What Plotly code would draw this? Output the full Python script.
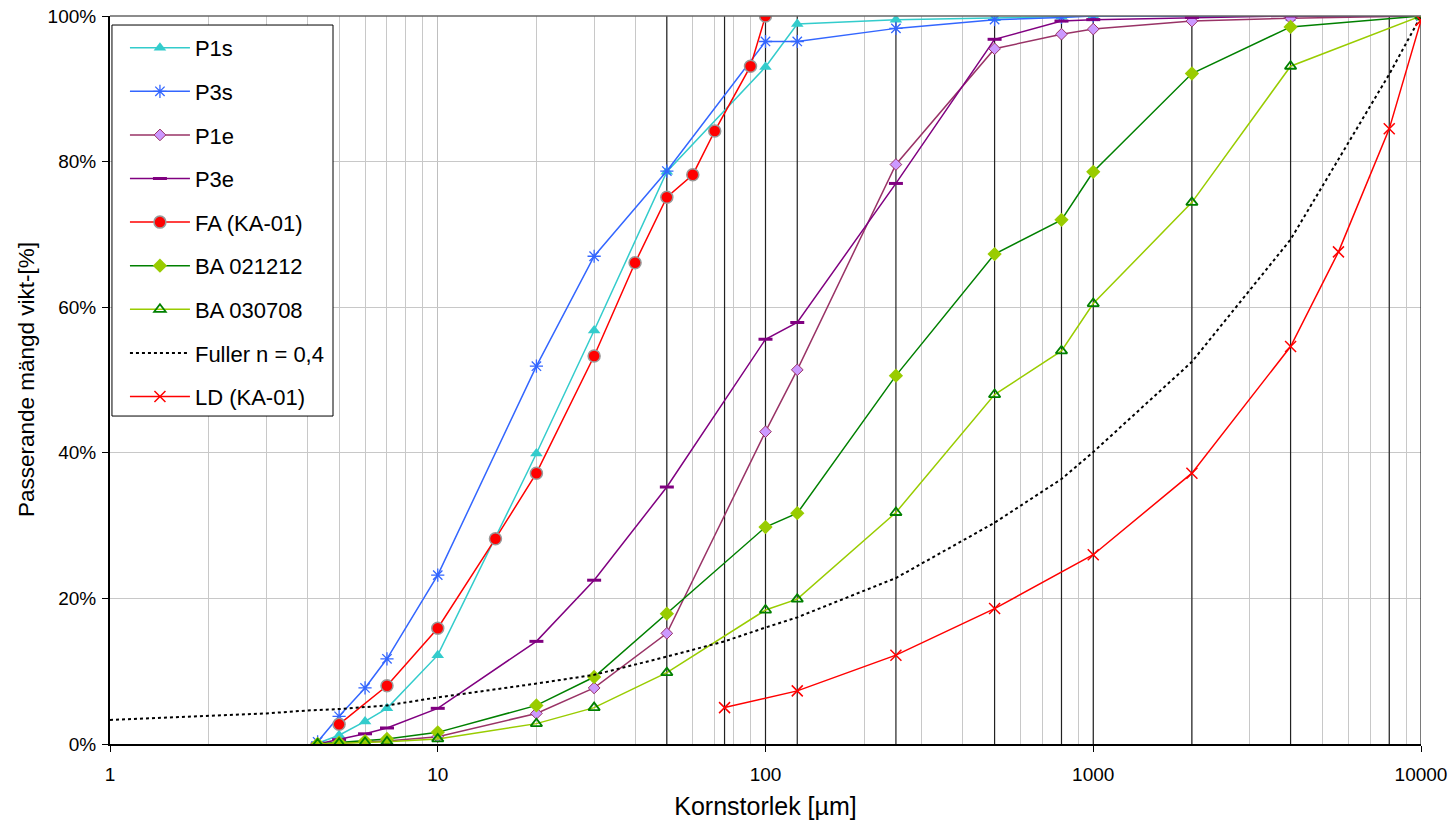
import plotly.graph_objects as go

# ---------------- data ----------------
x_p1s = [4.3, 5, 6, 7, 10, 20, 30, 50, 100, 125, 250, 500, 800, 1000, 2000, 4000, 10000]
y_p1s = [0.1, 1.2, 3.1, 4.9, 12.2, 39.9, 56.8, 78.6, 93.0, 98.9, 99.5, 99.7, 99.9, 100, 100, 100, 100]

x_p3s = [4.3, 5, 6, 7, 10, 20, 30, 50, 100, 125, 250, 500, 800, 1000, 2000, 4000, 10000]
y_p3s = [0.3, 3.8, 7.7, 11.7, 23.2, 51.9, 67.0, 78.7, 96.5, 96.5, 98.3, 99.5, 99.8, 100, 100, 100, 100]

x_p1e = [4.3, 5, 6, 7, 10, 20, 30, 50, 100, 125, 250, 500, 800, 1000, 2000, 4000, 10000]
y_p1e = [0.0, 0.1, 0.3, 0.4, 1.0, 4.2, 7.7, 15.2, 42.9, 51.4, 79.6, 95.5, 97.5, 98.2, 99.3, 99.7, 100]

x_p3e = [4.3, 5, 6, 7, 10, 20, 30, 50, 100, 125, 250, 500, 800, 1000, 2000, 4000, 10000]
y_p3e = [0.0, 0.6, 1.4, 2.2, 4.9, 14.1, 22.5, 35.3, 55.6, 57.9, 77.0, 96.8, 99.3, 99.5, 99.8, 100, 100]

x_fa = [5, 7, 10, 15, 20, 30, 40, 50, 60, 70, 90, 100]
y_fa = [2.7, 8.0, 15.9, 28.2, 37.2, 53.3, 66.1, 75.1, 78.2, 84.2, 93.1, 100]

x_ba1 = [4.3, 5, 6, 7, 10, 20, 30, 50, 100, 125, 250, 500, 800, 1000, 2000, 4000, 10000]
y_ba1 = [0.0, 0.2, 0.4, 0.7, 1.6, 5.3, 9.2, 17.9, 29.8, 31.7, 50.6, 67.3, 72.0, 78.6, 92.1, 98.5, 100]

x_ba2 = [4.3, 5, 6, 7, 10, 20, 30, 50, 100, 125, 250, 500, 800, 1000, 2000, 4000, 10000]
y_ba2 = [0.0, 0.1, 0.2, 0.3, 0.7, 2.8, 5.0, 9.8, 18.4, 19.9, 31.8, 48.0, 54.0, 60.5, 74.4, 93.1, 100]

x_fuller = [1, 2, 3, 4, 5, 7, 10, 20, 30, 50, 75, 100, 125, 250, 500, 800, 1000, 2000, 4000, 8000, 10000]
y_fuller = [3.3, 3.9, 4.2, 4.6, 4.8, 5.3, 6.4, 8.3, 9.5, 12.0, 14.1, 16.0, 17.4, 22.8, 30.4, 36.4, 40.1, 52.5, 69.3, 92.0, 100]

x_ld = [75, 125, 250, 500, 1000, 2000, 4000, 5600, 8000, 10000]
y_ld = [5.0, 7.3, 12.2, 18.6, 26.0, 37.2, 54.6, 67.6, 84.5, 99.4]

sieve_sizes = [50, 75, 100, 125, 250, 500, 800, 1000, 2000, 4000, 8000, 10000]

x_ticks = [1, 10, 100, 1000, 10000]
x_tick_labels = ["1", "10", "100", "1000", "10000"]
y_ticks = [0, 20, 40, 60, 80, 100]
y_tick_labels = ["0%", "20%", "40%", "60%", "80%", "100%"]

# ---------------- figure ----------------
fig = go.Figure()

# sieve lines (vertical)
sx, sy = [], []
for s in sieve_sizes:
    sx += [s, s, None]
    sy += [0, 100, None]
fig.add_trace(go.Scatter(x=sx, y=sy, mode="lines", line=dict(color="#222222", width=1.2),
                         showlegend=False, hoverinfo="skip"))

def add(name, x, y, lcolor, lwidth, msym, msize, mcolor, mline, mlw, dash="solid", mode="lines+markers"):
    fig.add_trace(go.Scatter(
        x=x, y=y, name=name, mode=mode, legendgroup=name,
        line=dict(color=lcolor, width=lwidth, dash=dash),
        marker=dict(symbol=msym, size=msize, color=mcolor, line=dict(color=mline, width=mlw)),
    ))

add("P1s", x_p1s, y_p1s, "#33CCCC", 1.5, "triangle-up", 11, "#33CCCC", "#33CCCC", 0)
add("P3s", x_p3s, y_p3s, "#3366FF", 1.5, "asterisk-open", 11, "#3366FF", "#3366FF", 1.3)
add("P1e", x_p1e, y_p1e, "#993366", 1.5, "diamond", 9, "#CC99FF", "#993366", 1)
add("P3e", x_p3e, y_p3e, "#800080", 1.5, "line-ew-open", 10, "#800080", "#800080", 3)
add("FA (KA-01)", x_fa, y_fa, "#FF0000", 1.5, "circle", 12, "#FF0000", "#999999", 1.5)
add("BA 021212", x_ba1, y_ba1, "#008000", 1.5, "diamond", 11, "#99CC00", "#99CC00", 0)
add("BA 030708", x_ba2, y_ba2, "#99CC00", 1.5, "triangle-up-open", 10, "#008000", "#008000", 1.8)
add("Fuller n = 0,4", x_fuller, y_fuller, "#000000", 2, "circle", 1, "#000000", "#000000", 0,
    dash="dot", mode="lines")
add("LD (KA-01)", x_ld, y_ld, "#FF0000", 1.5, "x-thin-open", 11, "#FF0000", "#FF0000", 1.5)

font_family = "Liberation Sans, Arial, sans-serif"

fig.update_layout(
    width=1454, height=824,
    margin=dict(l=110, r=33, t=16, b=80),
    plot_bgcolor="white", paper_bgcolor="white",
    font=dict(family=font_family, size=19, color="black"),
    legend=dict(
        x=0.0114, y=0.985, xanchor="left", yanchor="top",
        bgcolor="rgba(0,0,0,0)", borderwidth=0,
        font=dict(size=22, family=font_family),
        tracegroupgap=12, itemwidth=60,
    ),
    xaxis=dict(
        type="log", range=[0, 4], automargin=False, ticklabeloverflow="allow",
        tickvals=x_ticks, ticktext=x_tick_labels,
        ticks="outside", ticklen=6, tickcolor="black", ticklabelstandoff=6,
        showline=True, linecolor="black", linewidth=2,
        showgrid=True, gridcolor="#BFBFBF", gridwidth=1,
        minor=dict(dtick="D1", showgrid=True, gridcolor="#C8C8C8", gridwidth=1, ticks=""),
        title=dict(text="Kornstorlek [µm]", font=dict(size=25), standoff=14),
        zeroline=False,
    ),
    yaxis=dict(
        range=[0, 100], automargin=False, ticklabeloverflow="allow",
        tickvals=y_ticks, ticktext=y_tick_labels,
        ticks="outside", ticklen=6, tickcolor="black", ticklabelstandoff=2,
        showline=True, linecolor="black", linewidth=2,
        showgrid=True, gridcolor="#C8C8C8", gridwidth=1,
        zeroline=False,
    ),
    annotations=[
        dict(text="Passerande mängd vikt-[%]", textangle=-90, showarrow=False,
             xref="paper", yref="paper", x=-0.064, y=0.5, xanchor="center", yanchor="middle",
             font=dict(size=22.5, family=font_family, color="black")),
    ],
    shapes=[
        dict(type="line", xref="paper", yref="paper", x0=0, x1=1, y0=1, y1=1,
             line=dict(color="#666666", width=1.5)),
        # legend frame
        dict(type="rect", xref="paper", yref="paper", x0=0.0015, x1=0.1701, y0=0.4505, y1=0.9876,
             fillcolor="white", line=dict(color="black", width=1), layer="above"),
    ],
)

fig.write_html("out.html", config={"displayModeBar": False},
               post_script="document.body.style.margin='0px';")
